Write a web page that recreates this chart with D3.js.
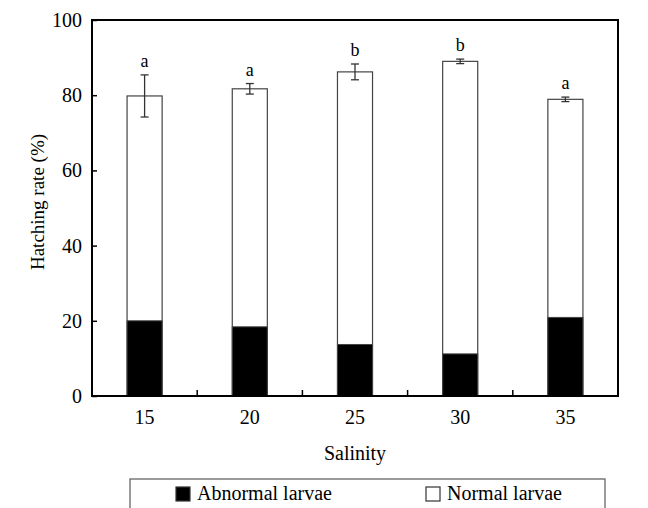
<!DOCTYPE html>
<html>
<head>
<meta charset="utf-8">
<script src="https://cdn.jsdelivr.net/npm/d3@7"></script>
</head>
<body style="margin:0; background:#fff">
<div id="chart"></div>
<script>
// chart data
var salinity = ["15", "20", "25", "30", "35"];
var abnormal = [20.0, 18.4, 13.7, 11.2, 20.9];
var total = [79.8, 81.7, 86.2, 89.0, 78.9];
var errs = [5.6, 1.4, 2.1, 0.6, 0.6];
var letters = ["a", "a", "b", "b", "a"];
var yTicks = [0, 20, 40, 60, 80, 100];

var svgWidth = 648;
var svgHeight = 508;
var serif = "'Liberation Serif'";

var margin = { top: 20, right: 30, bottom: 112, left: 92 };
var width = svgWidth - margin.left - margin.right;
var height = svgHeight - margin.top - margin.bottom;

var svg = d3.select("#chart")
  .append("svg")
  .attr("width", svgWidth)
  .attr("height", svgHeight);

var chartGroup = svg.append("g")
  .attr("transform", `translate(${margin.left}, ${margin.top})`);

var xScale = d3.scaleBand()
  .domain(salinity)
  .range([0, width])
  .padding(0);

var yScale = d3.scaleLinear()
  .domain([0, 100])
  .range([height, 0]);

var barW = xScale.bandwidth() / 3;

// bars: normal (white, full height) then abnormal (black) on top of it
chartGroup.selectAll(".normal")
  .data(salinity)
  .enter()
  .append("rect")
  .attr("x", d => xScale(d) + xScale.bandwidth() / 2 - barW / 2)
  .attr("y", (d, i) => yScale(total[i]))
  .attr("width", barW)
  .attr("height", (d, i) => height - yScale(total[i]))
  .attr("fill", "#fff")
  .attr("stroke", "#444")
  .attr("stroke-width", 1.2);

chartGroup.selectAll(".abnormal")
  .data(salinity)
  .enter()
  .append("rect")
  .attr("x", d => xScale(d) + xScale.bandwidth() / 2 - barW / 2)
  .attr("y", (d, i) => yScale(abnormal[i]))
  .attr("width", barW)
  .attr("height", (d, i) => height - yScale(abnormal[i]))
  .attr("fill", "#000")
  .attr("stroke", "#444")
  .attr("stroke-width", 1);

// error bars
var eb = chartGroup.selectAll(".err")
  .data(salinity)
  .enter()
  .append("g")
  .attr("stroke", "#333")
  .attr("stroke-width", 1.3);

eb.append("line")
  .attr("x1", d => xScale(d) + xScale.bandwidth() / 2)
  .attr("x2", d => xScale(d) + xScale.bandwidth() / 2)
  .attr("y1", (d, i) => yScale(total[i] + errs[i]))
  .attr("y2", (d, i) => yScale(total[i] - errs[i]));

eb.append("line")
  .attr("x1", d => xScale(d) + xScale.bandwidth() / 2 - 4)
  .attr("x2", d => xScale(d) + xScale.bandwidth() / 2 + 4)
  .attr("y1", (d, i) => yScale(total[i] + errs[i]))
  .attr("y2", (d, i) => yScale(total[i] + errs[i]));

eb.append("line")
  .attr("x1", d => xScale(d) + xScale.bandwidth() / 2 - 4)
  .attr("x2", d => xScale(d) + xScale.bandwidth() / 2 + 4)
  .attr("y1", (d, i) => yScale(total[i] - errs[i]))
  .attr("y2", (d, i) => yScale(total[i] - errs[i]));

// significance letters
chartGroup.selectAll(".letter")
  .data(salinity)
  .enter()
  .append("text")
  .attr("x", d => xScale(d) + xScale.bandwidth() / 2)
  .attr("y", (d, i) => yScale(total[i] + errs[i]) - 8)
  .attr("text-anchor", "middle")
  .style("font-size", "18px")
  .text((d, i) => letters[i]);

// frame
chartGroup.append("rect")
  .attr("width", width)
  .attr("height", height)
  .attr("fill", "none")
  .attr("stroke", "#000")
  .attr("stroke-width", 2);

// y axis with inner ticks
var leftAxis = d3.axisLeft(yScale).tickValues(yTicks).tickSizeInner(-5).tickSizeOuter(0).tickPadding(10);
var yAxis = chartGroup.append("g").call(leftAxis);
yAxis.select(".domain").remove();
yAxis.selectAll("line").attr("stroke-width", 1.5);
yAxis.selectAll("text").style("font-size", "20px");

// x axis: labels at bar centres, ticks between bars pointing up
var bottomAxis = d3.axisBottom(xScale).tickSize(0).tickPadding(14);
var xAxis = chartGroup.append("g")
  .attr("transform", `translate(0, ${height})`)
  .call(bottomAxis);
xAxis.select(".domain").remove();
xAxis.selectAll("text").style("font-size", "20px");

chartGroup.selectAll(".xtick")
  .data(salinity.slice(1))
  .enter()
  .append("line")
  .attr("x1", d => xScale(d))
  .attr("x2", d => xScale(d))
  .attr("y1", height)
  .attr("y2", height - 6)
  .attr("stroke", "#000")
  .attr("stroke-width", 1.5);

// axis titles
chartGroup.append("text")
  .attr("transform", "rotate(-90)")
  .attr("x", -182)
  .attr("y", -48)
  .attr("text-anchor", "middle")
  .style("font-size", "19px")
  .text("Hatching rate (%)");

chartGroup.append("text")
  .attr("x", width / 2)
  .attr("y", height + 64)
  .attr("text-anchor", "middle")
  .style("font-size", "20px")
  .text("Salinity");

// legend
var legend = svg.append("g");
legend.append("rect")
  .attr("x", 130)
  .attr("y", 479)
  .attr("width", 475)
  .attr("height", 40)
  .attr("fill", "none")
  .attr("stroke", "#666")
  .attr("stroke-width", 1.3);

var legendItems = [
  { label: "Abnormal larvae", fill: "#000", x: 176 },
  { label: "Normal larvae", fill: "#fff", x: 426 }
];

legendItems.forEach(function(item) {
  legend.append("rect")
    .attr("x", item.x)
    .attr("y", 487)
    .attr("width", 14)
    .attr("height", 14)
    .attr("fill", item.fill)
    .attr("stroke", "#333")
    .attr("stroke-width", 1.2);
  legend.append("text")
    .attr("x", item.x + 21)
    .attr("y", 500)
    .style("font-size", "20px")
    .text(item.label);
});

svg.selectAll("text")
  .style("font-family", serif)
  .attr("fill", "#000");
</script>
</body>
</html>
